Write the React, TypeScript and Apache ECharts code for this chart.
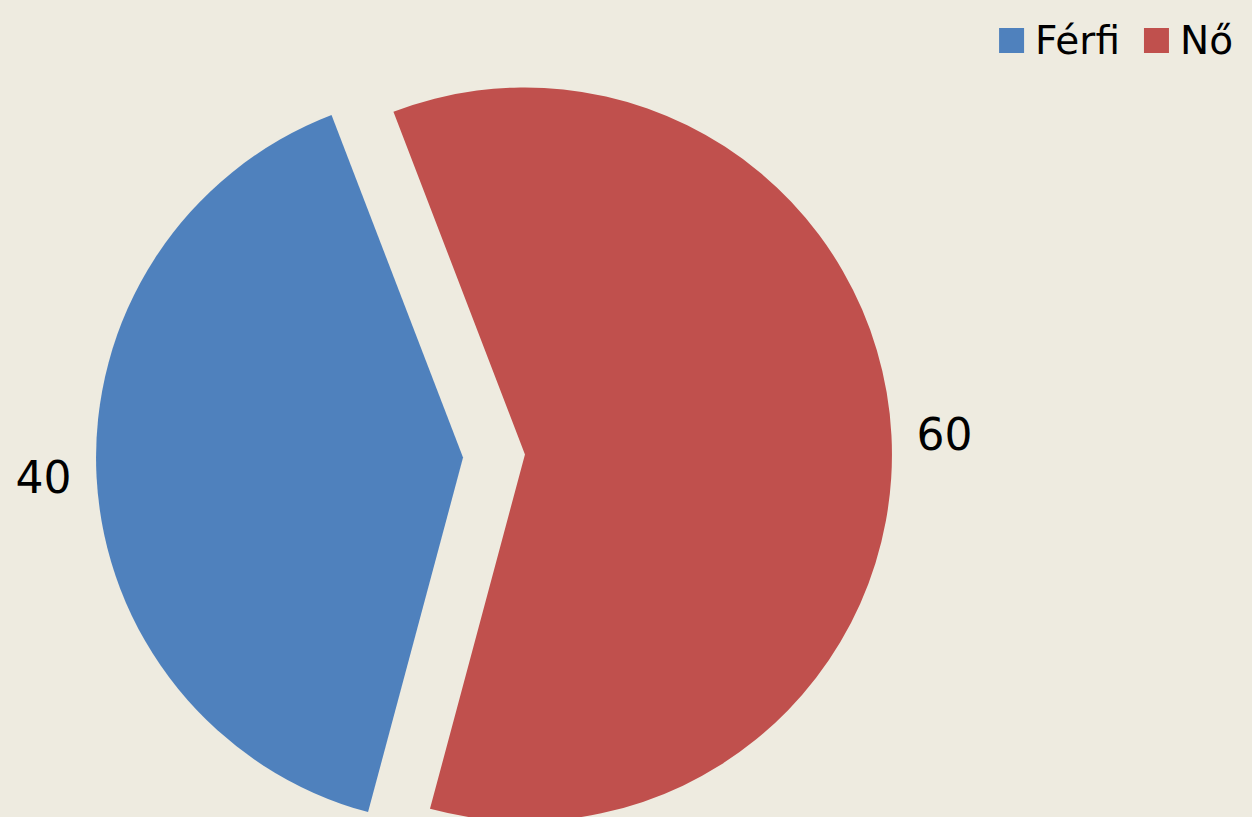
import React, { useEffect, useRef } from "react";
import * as echarts from "echarts";

const categories = ["Férfi", "Nő"];
const values = [40, 60];
const colors = ["#4F81BD", "#C0504D"];

export default function App() {
  const ref = useRef<HTMLDivElement>(null);
  useEffect(() => {
    document.body.style.margin = "0";
    const chart = echarts.init(ref.current!, null, { renderer: "svg" });
    chart.setOption({
      animation: false,
      backgroundColor: "#EEEBE0",
      legend: {
        data: categories,
        right: 14,
        top: 16,
        icon: "rect",
        itemWidth: 25,
        itemHeight: 25,
        itemGap: 24,
        selectedMode: false,
        textStyle: {
          fontFamily: "'DejaVu Sans'",
          fontSize: 39,
          color: "#000",
          padding: [0, 0, 0, 6],
        },
      },
      series: [
        {
          type: "pie",
          center: [494, 456],
          radius: 367,
          startAngle: 255,
          clockwise: true,
          selectedMode: "multiple",
          selectedOffset: 31,
          silent: true,
          label: {
            show: true,
            position: "outside",
            formatter: "{c}",
            fontFamily: "'DejaVu Sans'",
            fontSize: 44,
            color: "#000",
          },
          labelLine: { show: false, length: 8, length2: 12 },
          select: { itemStyle: {} },
          data: categories.map((name, i) => ({
            name,
            value: values[i],
            selected: true,
            itemStyle: { color: colors[i] },
          })),
        },
      ],
    });
    return () => chart.dispose();
  }, []);
  return (
    <div
      ref={ref}
      style={{ position: "fixed", left: 0, top: 0, width: 1252, height: 817 }}
    />
  );
}
